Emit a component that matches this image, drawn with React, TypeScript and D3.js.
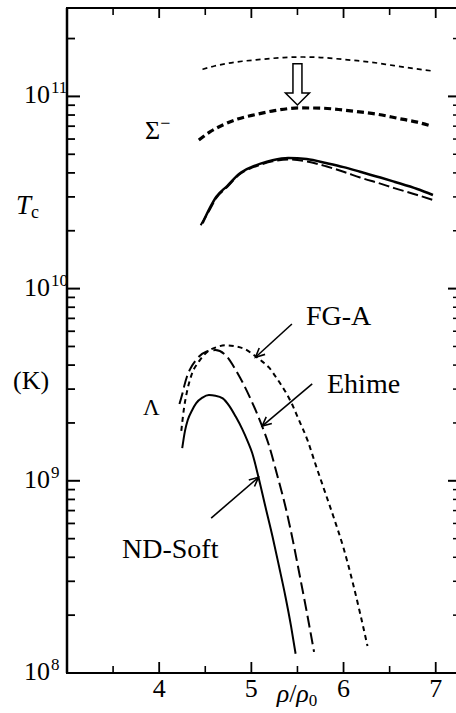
import * as d3 from 'd3';

// density axis (rho/rho0)
const xMajorTicks = [4, 5, 6, 7];
const xMinorTicks = [3.5, 4.5, 5.5, 6.5];
const yMajorExponents = [8, 9, 10, 11];

// Sigma- hyperon, log10(Tc / K)
const sigmaFgAX = [4.47, 4.6, 4.74, 4.9, 5.05, 5.2, 5.35, 5.52, 5.7, 5.9, 6.1, 6.3, 6.55, 6.75, 6.97];
const sigmaFgALogT = [11.141, 11.158, 11.172, 11.183, 11.19, 11.197, 11.202, 11.205, 11.204, 11.197, 11.188, 11.178, 11.16, 11.146, 11.132];

const sigmaShiftedX = [4.43, 4.55, 4.69, 4.85, 5.05, 5.25, 5.52, 5.75, 6.0, 6.2, 6.37, 6.6, 6.8, 6.95];
const sigmaShiftedLogT = [10.773, 10.815, 10.851, 10.882, 10.906, 10.926, 10.94, 10.939, 10.929, 10.918, 10.907, 10.885, 10.866, 10.846];

const sigmaNdSoftX = [4.47, 4.55, 4.62, 4.74, 4.87, 5.0, 5.1, 5.23, 5.4, 5.6, 5.82, 6.0, 6.18, 6.4, 6.55, 6.8, 6.97];
const sigmaNdSoftLogT = [10.34, 10.42, 10.478, 10.535, 10.598, 10.632, 10.65, 10.668, 10.68, 10.674, 10.652, 10.632, 10.608, 10.578, 10.556, 10.518, 10.487];

const sigmaEhimeX = [4.45, 4.55, 4.62, 4.74, 4.87, 5.0, 5.1, 5.23, 5.4, 5.6, 5.82, 6.0, 6.18, 6.4, 6.55, 6.8, 6.97];
const sigmaEhimeLogT = [10.33, 10.412, 10.472, 10.53, 10.594, 10.628, 10.645, 10.662, 10.672, 10.662, 10.635, 10.608, 10.578, 10.546, 10.523, 10.487, 10.461];

// Lambda hyperon, log10(Tc / K)
const lambdaNdSoftX = [4.25, 4.28, 4.31, 4.36, 4.4, 4.47, 4.54, 4.61, 4.69, 4.76, 4.83, 4.9, 4.96, 5.01, 5.08, 5.15, 5.23, 5.3, 5.37, 5.43, 5.48];
const lambdaNdSoftLogT = [9.17, 9.26, 9.316, 9.37, 9.403, 9.433, 9.446, 9.443, 9.429, 9.39, 9.334, 9.27, 9.205, 9.143, 9.013, 8.87, 8.709, 8.555, 8.397, 8.245, 8.1];

const lambdaEhimeX = [4.22, 4.25, 4.27, 4.3, 4.33, 4.4, 4.51, 4.61, 4.72, 4.83, 4.98, 5.12, 5.19, 5.28, 5.37, 5.45, 5.52, 5.6, 5.68];
const lambdaEhimeLogT = [9.4, 9.45, 9.49, 9.54, 9.576, 9.629, 9.672, 9.68, 9.654, 9.577, 9.438, 9.28, 9.186, 9.03, 8.865, 8.69, 8.519, 8.32, 8.11];

const lambdaFgAX = [4.24, 4.27, 4.3, 4.35, 4.43, 4.52, 4.62, 4.72, 4.82, 4.93, 5.05, 5.12, 5.19, 5.28, 5.37, 5.45, 5.5, 5.61, 5.7, 5.8, 5.9, 6.0, 6.1, 6.18, 6.26];
const lambdaFgALogT = [9.26, 9.38, 9.46, 9.55, 9.62, 9.67, 9.695, 9.705, 9.7, 9.685, 9.646, 9.62, 9.59, 9.53, 9.463, 9.39, 9.334, 9.21, 9.08, 8.94, 8.8, 8.65, 8.47, 8.31, 8.14];

// annotation arrows: [fromX, fromLogT, tipX, tipLogT]
const fgaArrow = [5.44, 9.816, 5.045, 9.643];
const ehimeArrow = [5.66, 9.504, 5.117, 9.285];
const ndSoftArrow = [4.564, 8.806, 5.077, 9.018];
const shiftArrow = [5.5, 11.17, 5.5, 10.955];

const W = 456;
const H = 713;
const serif = "'Liberation Serif', 'DejaVu Serif', serif";

const x = d3.scaleLinear().domain([3, 7.22]).range([67, 456]);
const y = d3.scaleLog().domain([1e8, 10 ** 11.46]).range([673, 8]);

const toPoints = (xs: number[], logs: number[]) => xs.map((v, i) => [v, 10 ** logs[i]] as [number, number]);

const lineGen = d3
  .line<[number, number]>()
  .x((d) => x(d[0]))
  .y((d) => y(d[1]))
  .curve(d3.curveMonotoneX);

const curves = [
  { pts: toPoints(sigmaFgAX, sigmaFgALogT), w: 1.7, dash: '5,4' },
  { pts: toPoints(sigmaShiftedX, sigmaShiftedLogT), w: 3.2, dash: '7,4' },
  { pts: toPoints(sigmaEhimeX, sigmaEhimeLogT), w: 2, dash: '11,4' },
  { pts: toPoints(sigmaNdSoftX, sigmaNdSoftLogT), w: 2.5, dash: null },
  { pts: toPoints(lambdaFgAX, lambdaFgALogT), w: 2, dash: '5,4' },
  { pts: toPoints(lambdaEhimeX, lambdaEhimeLogT), w: 2, dash: '12,5' },
  { pts: toPoints(lambdaNdSoftX, lambdaNdSoftLogT), w: 2, dash: null },
];

function Arrow({ a }: { a: number[] }) {
  const x0 = x(a[0]);
  const y0 = y(10 ** a[1]);
  const x1 = x(a[2]);
  const y1 = y(10 ** a[3]);
  const ang = Math.atan2(y1 - y0, x1 - x0);
  const len = 10;
  const spread = 0.45;
  const h1 = [x1 - len * Math.cos(ang - spread), y1 - len * Math.sin(ang - spread)];
  const h2 = [x1 - len * Math.cos(ang + spread), y1 - len * Math.sin(ang + spread)];
  return (
    <g stroke="#000" strokeWidth={1.6} fill="none">
      <line x1={x0} y1={y0} x2={x1} y2={y1} />
      <polyline points={`${h1[0]},${h1[1]} ${x1},${y1} ${h2[0]},${h2[1]}`} />
    </g>
  );
}

export default function App() {
  const minorY: number[] = [];
  for (let e = 8; e <= 11; e++) {
    for (let k = 2; k <= 9; k++) {
      const v = k * 10 ** e;
      if (v < y.domain()[1]) minorY.push(v);
    }
  }

  const [left, right] = x.range();
  const [bottom, top] = y.range();

  // hollow arrow between the two Sigma- curves
  const ax = x(shiftArrow[0]);
  const aTop = y(10 ** shiftArrow[1]);
  const aTip = y(10 ** shiftArrow[3]);
  const aNeck = aTip - 12;
  const hollow = [
    [ax - 4.5, aTop],
    [ax + 4.5, aTop],
    [ax + 4.5, aNeck],
    [ax + 12, aNeck],
    [ax, aTip],
    [ax - 12, aNeck],
    [ax - 4.5, aNeck],
  ]
    .map((p) => p.join(','))
    .join(' ');

  return (
    <svg
      width={W}
      height={H}
      style={{ position: 'absolute', left: 0, top: 0, background: '#fff', fontFamily: serif }}
    >
      <rect width={W} height={H} fill="#fff" />

      {/* frame */}
      <line x1={left} y1={top} x2={left} y2={bottom} stroke="#000" strokeWidth={2.5} />
      <line x1={left - 1} y1={bottom} x2={right} y2={bottom} stroke="#000" strokeWidth={2} />
      <line x1={left - 1} y1={top} x2={right} y2={top} stroke="#000" strokeWidth={2} />

      {/* y ticks */}
      {yMajorExponents.map((e) => (
        <g key={'ym' + e}>
          <line x1={left} x2={left + 13} y1={y(10 ** e)} y2={y(10 ** e)} stroke="#000" strokeWidth={2} />
          <line x1={right - 8} x2={right} y1={y(10 ** e)} y2={y(10 ** e)} stroke="#000" strokeWidth={2} />
          <text x={50} y={y(10 ** e) + 7} fontSize={26} textAnchor="end" style={{ fontFamily: serif }}>
            10
          </text>
          <text x={51} y={y(10 ** e) - 3} fontSize={17} style={{ fontFamily: serif }}>
            {e}
          </text>
        </g>
      ))}
      {minorY.map((v) => (
        <g key={'yn' + v}>
          <line x1={left} x2={left + 8} y1={y(v)} y2={y(v)} stroke="#000" strokeWidth={1.8} />
          <line x1={right - 3} x2={right} y1={y(v)} y2={y(v)} stroke="#000" strokeWidth={1.5} />
        </g>
      ))}

      {/* x ticks */}
      {xMajorTicks.map((t) => (
        <g key={'xm' + t}>
          <line x1={x(t)} x2={x(t)} y1={bottom} y2={bottom - 11} stroke="#000" strokeWidth={1.8} />
          <line x1={x(t)} x2={x(t)} y1={top} y2={top + 10} stroke="#000" strokeWidth={1.8} />
          <text x={x(t)} y={697} fontSize={26} textAnchor="middle" style={{ fontFamily: serif }}>
            {t}
          </text>
        </g>
      ))}
      {xMinorTicks.map((t) => (
        <g key={'xn' + t}>
          <line x1={x(t)} x2={x(t)} y1={bottom} y2={bottom - 7} stroke="#000" strokeWidth={1.6} />
          <line x1={x(t)} x2={x(t)} y1={top} y2={top + 7} stroke="#000" strokeWidth={1.6} />
        </g>
      ))}

      {/* curves */}
      {curves.map((c, i) => (
        <path
          key={i}
          d={lineGen(c.pts) || ''}
          fill="none"
          stroke="#000"
          strokeWidth={c.w}
          strokeDasharray={c.dash || undefined}
        />
      ))}

      <polygon points={hollow} fill="#fff" stroke="#000" strokeWidth={1.5} />

      <Arrow a={fgaArrow} />
      <Arrow a={ehimeArrow} />
      <Arrow a={ndSoftArrow} />

      {/* labels */}
      <g style={{ fontFamily: serif }}>
        <text x={145} y={139} fontSize={26}>
          Σ<tspan dy={-10} fontSize={18}>−</tspan>
        </text>
        <text x={143} y={415} fontSize={23}>
          Λ
        </text>
        <text x={306} y={325} fontSize={28}>
          FG-A
        </text>
        <text x={327} y={393} fontSize={28}>
          Ehime
        </text>
        <text x={122} y={558} fontSize={28}>
          ND-Soft
        </text>

        <text x={16} y={214} fontSize={27} fontStyle="italic">
          T<tspan dy={4} fontSize={18} fontStyle="normal">c</tspan>
        </text>
        <text x={13} y={389} fontSize={26}>
          (K)
        </text>

        <text x={297} y={702} fontSize={26} textAnchor="middle">
          <tspan fontStyle="italic">ρ</tspan>/<tspan fontStyle="italic">ρ</tspan>
          <tspan dy={4} fontSize={17}>0</tspan>
        </text>
      </g>
    </svg>
  );
}
